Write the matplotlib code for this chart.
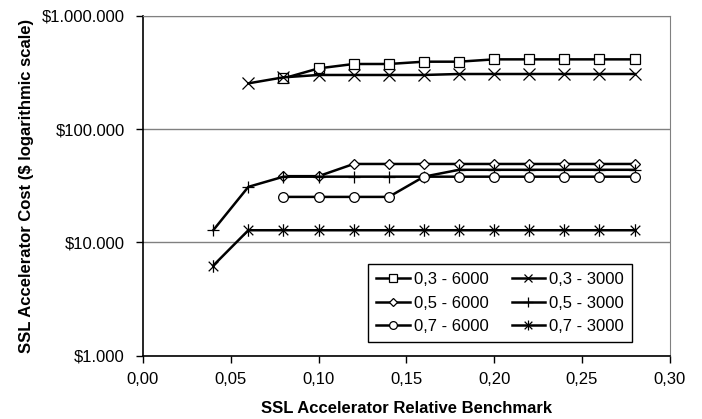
import matplotlib
matplotlib.use("Agg")
import matplotlib.pyplot as plt
from matplotlib.path import Path
from matplotlib.ticker import FuncFormatter, FixedLocator

plt.rcParams['font.family'] = ['Liberation Sans', 'DejaVu Sans']

# benchmark values on the x axis
bench = [0.04, 0.06, 0.08, 0.10, 0.12, 0.14, 0.16, 0.18, 0.20, 0.22, 0.24, 0.26, 0.28]

# costs per series (None = no point)
cost_03_6000 = [None, None, 280000, 343000, 375000, 375000, 393000, 393000, 412000, 412000, 412000, 412000, 412000]
cost_03_3000 = [None, 253000, 286000, 300000, 300000, 300000, 300000, 306000, 306000, 306000, 306000, 306000, 306000]
cost_05_6000 = [None, None, 38400, 38400, 49200, 49200, 49200, 49200, 49200, 49200, 49200, 49200, 49200]
cost_05_3000 = [12800, 30900, 38000, 38000, 38000, 38000, 38000, 43700, 43700, 43700, 43700, 43700, 43700]
cost_07_6000 = [None, None, 25200, 25200, 25200, 25200, 38000, 38000, 38000, 38000, 38000, 38000, 38000]
cost_07_3000 = [6240, 12800, 12800, 12800, 12800, 12800, 12800, 12800, 12800, 12800, 12800, 12800, 12800]

labels = ['0,3 - 6000', '0,3 - 3000', '0,5 - 6000', '0,5 - 3000', '0,7 - 6000', '0,7 - 3000']

# excel style star: x plus vertical bar
star = Path([(-1, -1), (1, 1), (-1, 1), (1, -1), (0, -1.3), (0, 1.3)],
            [Path.MOVETO, Path.LINETO, Path.MOVETO, Path.LINETO, Path.MOVETO, Path.LINETO])


def pts(ys):
    xs = [x for x, y in zip(bench, ys) if y is not None]
    return xs, [y for y in ys if y is not None]


fig = plt.figure(figsize=(7.02, 4.19), dpi=100)
ax = fig.add_axes([0.2037, 0.151, 0.7503, 0.8115])

series = [
    (cost_03_6000, 's', 6.5),
    (cost_03_3000, 'x', 8),
    (cost_05_6000, 'D', 5.5),
    (cost_05_3000, '+', 9),
    (cost_07_6000, 'o', 7),
    (cost_07_3000, star, 9),
]
handles = []
for (ys, m, ms), lab in zip(series, labels):
    xs, vals = pts(ys)
    h, = ax.plot(xs, vals, color='black', lw=1.8, marker=m, ms=ms,
                 mfc='white', mec='black', mew=0.9, label=lab, zorder=3)
    handles.append(h)

ax.set_yscale('log')
ax.set_ylim(1000, 1000000)
ax.set_xlim(0, 0.30)
ax.yaxis.set_major_locator(FixedLocator([1000, 10000, 100000, 1000000]))
ax.yaxis.set_minor_locator(FixedLocator([]))
ax.yaxis.set_major_formatter(FuncFormatter(lambda v, p: '$' + f'{int(round(v)):,}'.replace(',', '.')))
ax.xaxis.set_major_locator(FixedLocator([0, 0.05, 0.10, 0.15, 0.20, 0.25, 0.30]))
ax.xaxis.set_major_formatter(FuncFormatter(lambda v, p: f'{v:.2f}'.replace('.', ',')))

ax.grid(axis='y', color='#808080', lw=1)
ax.set_axisbelow(True)
ax.spines['top'].set_color('#808080')
ax.spines['right'].set_color('#808080')
ax.spines['left'].set_linewidth(1.2)
ax.spines['bottom'].set_linewidth(1.2)
ax.tick_params(axis='both', direction='out', length=5, width=1, labelsize=12, colors='black')
ax.tick_params(axis='x', pad=7)
ax.tick_params(axis='y', pad=8)

ax.set_xlabel('SSL Accelerator Relative Benchmark', fontsize=12, fontweight='bold', labelpad=10)
ax.set_ylabel('SSL Accelerator Cost ($ logarithmic scale)', fontsize=12, fontweight='bold', labelpad=6)

order = [0, 2, 4, 1, 3, 5]
leg = ax.legend([handles[i] for i in order], [labels[i] for i in order], ncol=2,
                loc='upper left', bbox_to_anchor=(0.427, 0.27), borderaxespad=0,
                fontsize=12, fancybox=False, framealpha=1, edgecolor='black',
                handlelength=2.0, handletextpad=0.25, columnspacing=1.4,
                labelspacing=0.5, borderpad=0.5, markerscale=0.8)
leg.get_frame().set_linewidth(1)

fig.savefig('out.png', dpi=100)
